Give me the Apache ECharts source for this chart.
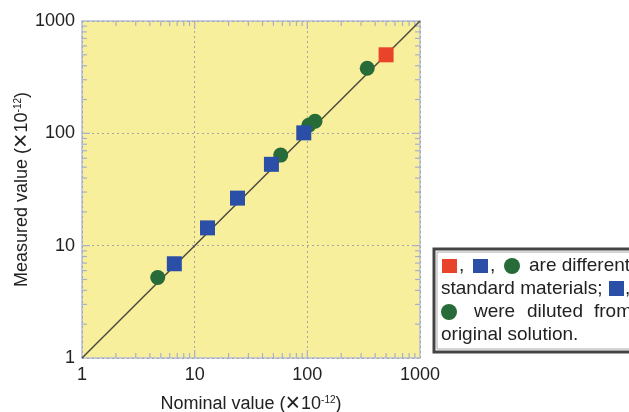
<!DOCTYPE html>
<html><head><meta charset="utf-8">
<script src="https://cdn.jsdelivr.net/npm/echarts@6/dist/echarts.min.js"></script>
<style>html,body{margin:0;padding:0;background:#fff}#c{width:629px;height:412px}</style>
</head><body><div id="c"></div>
<script>
// ---- data ----
const axisMin = 1, axisMax = 1000;
const majorTickValues = [1, 10, 100, 1000];
const minorTickValues = [2,3,4,5,6,7,8,9,20,30,40,50,60,70,80,90,200,300,400,500,600,700,800,900];
const diagonal = [1, 1000];
const redNominal = [500];
const redMeasured = [500];
const blueNominal = [6.6, 13, 24, 48, 93];
const blueMeasured = [6.9, 14.4, 26.5, 53, 101];
const greenNominal = [4.7, 58, 103, 117, 340];
const greenMeasured = [5.2, 64, 118, 128, 380];
const xName = 'Nominal value ({x|×}10{sup|-12})';
const yName = 'Measured value ({x|×}10{sup|-12})';

const F = '"Liberation Sans", Arial, Helvetica, sans-serif';
const zip = (a, b) => a.map((v, i) => [v, b[i]]);
const chart = echarts.init(document.getElementById('c'), null, {renderer: 'canvas'});

const tickData = [];
majorTickValues.slice(1, -1).forEach(v => { tickData.push([v, 10, 0, 8]); tickData.push([10, v, 1, 8]); });
minorTickValues.forEach(v => { tickData.push([v, 10, 0, 5]); tickData.push([10, v, 1, 5]); });

const nameRich = {
  x: {fontSize: 25, fontFamily: F, color: '#222', padding: [0, 1, 0, 0]},
  sup: {fontSize: 10, fontFamily: F, color: '#222', padding: [0, 0, 9, 0]}
};
const fmt = v => String(Math.round(v));
const T = (x, y, s) => ({type: 'text', x: x, y: y, z: 100,
  style: {text: s, font: '19px ' + F, fill: '#222', verticalAlign: 'middle'}});

const option = {
  animation: false,
  grid: {left: 82, right: 209, top: 21, bottom: 54, show: true, containLabel: false, outerBoundsMode: 'none',
    backgroundColor: '#f8ef9c', borderColor: '#b5bdd9', borderWidth: 1.5},
  xAxis: {
    type: 'log', logBase: 10, min: axisMin, max: axisMax,
    axisLine: {show: false}, axisTick: {show: false},
    axisLabel: {fontSize: 18, color: '#222', fontFamily: F, margin: 8, formatter: fmt},
    splitLine: {show: true, lineStyle: {type: [2, 3], color: '#a5a5a5', width: 1}},
    name: xName, nameLocation: 'middle', nameGap: 34, nameMoveOverlap: false,
    nameTextStyle: {fontSize: 18, color: '#222', fontFamily: F, rich: nameRich}
  },
  yAxis: {
    type: 'log', logBase: 10, min: axisMin, max: axisMax,
    axisLine: {show: false}, axisTick: {show: false},
    axisLabel: {fontSize: 18, color: '#222', fontFamily: F, margin: 7, formatter: fmt},
    splitLine: {show: true, lineStyle: {type: [2, 3], color: '#a5a5a5', width: 1}},
    name: yName, nameLocation: 'middle', nameGap: 47, nameMoveOverlap: false,
    nameTextStyle: {fontSize: 18, color: '#222', fontFamily: F, rich: nameRich}
  },
  series: [
    {
      type: 'custom', silent: true, clip: false, z: 3,
      encode: {x: 0, y: 1},
      data: tickData,
      renderItem: function (params, api) {
        const v0 = api.value(0), v1 = api.value(1), t = api.value(2), len = api.value(3);
        const st = {stroke: '#a8b0cc', lineWidth: 1.2};
        if (t === 0) {
          const a = api.coord([v0, axisMin]), b = api.coord([v0, axisMax]);
          return {type: 'group', children: [
            {type: 'line', shape: {x1: a[0], y1: a[1], x2: a[0], y2: a[1] - len}, style: st},
            {type: 'line', shape: {x1: b[0], y1: b[1], x2: b[0], y2: b[1] + len}, style: st}
          ]};
        } else {
          const a = api.coord([axisMin, v1]), b = api.coord([axisMax, v1]);
          return {type: 'group', children: [
            {type: 'line', shape: {x1: a[0], y1: a[1], x2: a[0] + len, y2: a[1]}, style: st},
            {type: 'line', shape: {x1: b[0], y1: b[1], x2: b[0] - len, y2: b[1]}, style: st}
          ]};
        }
      }
    },
    {
      type: 'line', data: zip(diagonal, diagonal), symbol: 'none', silent: true, z: 4,
      lineStyle: {color: '#4d4b40', width: 1.5}
    },
    {
      type: 'scatter', data: zip(greenNominal, greenMeasured), symbol: 'circle', symbolSize: 15, z: 5,
      itemStyle: {color: '#266b38', opacity: 1}
    },
    {
      type: 'scatter', data: zip(blueNominal, blueMeasured), symbol: 'rect', symbolSize: 15, z: 5,
      itemStyle: {color: '#2b4fa6', opacity: 1}
    },
    {
      type: 'scatter', data: zip(redNominal, redMeasured), symbol: 'rect', symbolSize: 15, z: 5,
      itemStyle: {color: '#e8432b', opacity: 1}
    }
  ],
  graphic: [
    {type: 'rect', z: 100, shape: {x: 434, y: 249, width: 210, height: 103}, style: {fill: '#fff', stroke: '#444', lineWidth: 3}},
    {type: 'rect', z: 100, shape: {x: 437, y: 252, width: 210, height: 97}, style: {fill: 'none', stroke: '#aaa', lineWidth: 1}},
    {type: 'rect', z: 100, shape: {x: 442, y: 259, width: 15, height: 14}, style: {fill: '#e8432b'}},
    T(459, 266, ','),
    {type: 'rect', z: 100, shape: {x: 473, y: 259, width: 15, height: 14}, style: {fill: '#2b4fa6'}},
    T(490, 266, ','),
    {type: 'circle', z: 100, shape: {cx: 512, cy: 266, r: 8}, style: {fill: '#266b38'}},
    T(529, 266, 'are different'),
    T(441, 289, 'standard materials;'),
    {type: 'rect', z: 100, shape: {x: 609, y: 281, width: 15, height: 15}, style: {fill: '#2b4fa6'}},
    T(625, 289, ','),
    {type: 'circle', z: 100, shape: {cx: 449, cy: 312, r: 8}, style: {fill: '#266b38'}},
    T(474, 312, 'were'),
    T(527, 312, 'diluted'),
    T(594, 312, 'from'),
    T(441, 335, 'original solution.')
  ]
};
chart.setOption(option);
</script></body></html>
